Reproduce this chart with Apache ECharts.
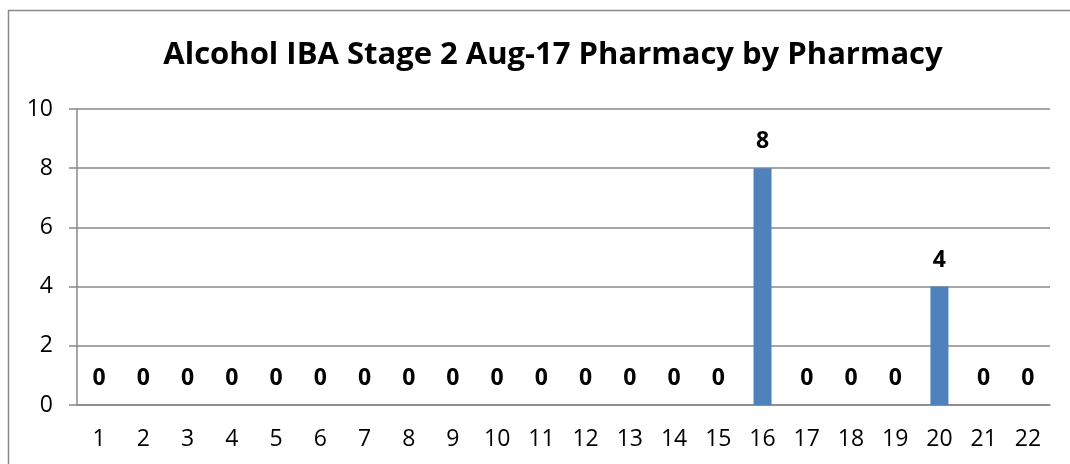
<!DOCTYPE html>
<html>
<head>
<meta charset="utf-8">
<script src="https://cdn.jsdelivr.net/npm/echarts@6/dist/echarts.min.js"></script>
<style>
  html, body { margin: 0; padding: 0; background: #fff; }
  #chart { width: 1070px; height: 464px; }
</style>
</head>
<body>
<div id="chart"></div>
<script>
  // pharmacy numbers along the x axis
  var categories = ['1', '2', '3', '4', '5', '6', '7', '8', '9', '10', '11',
    '12', '13', '14', '15', '16', '17', '18', '19', '20', '21', '22']
  var values = [0, 0, 0, 0, 0, 0, 0, 0, 0, 0, 0, 0, 0, 0, 0, 8, 0, 0, 0, 4, 0, 0]
  var yTicks = [0, 2, 4, 6, 8, 10]

  var fontName = '"Open Sans", sans-serif'
  var gray = '#888888'

  var chart = echarts.init(document.getElementById('chart'))
  var option = {
    animation: false,
    title: {
      text: 'Alcohol IBA Stage 2 Aug-17 Pharmacy by Pharmacy',
      left: 548,
      top: 35,
      textAlign: 'center',
      textStyle: {
        color: '#000',
        fontSize: 31,
        fontWeight: 'bold',
        fontFamily: fontName
      }
    },
    graphic: [{
      type: 'rect',
      shape: { x: 8.5, y: 10.5, width: 1100, height: 500 },
      style: { fill: 'none', stroke: gray, lineWidth: 1.5 },
      silent: true
    }],
    grid: { left: 77, right: 20, top: 109, bottom: 59 },
    xAxis: {
      type: 'category',
      data: categories,
      axisLine: { lineStyle: { color: gray, width: 1.5 } },
      axisTick: { length: 6, lineStyle: { color: gray, width: 1.5 } },
      axisLabel: { color: '#000', fontSize: 23, fontFamily: fontName, margin: 23 }
    },
    yAxis: {
      type: 'value',
      min: yTicks[0],
      max: yTicks[yTicks.length - 1],
      interval: 2,
      axisLine: { show: true, lineStyle: { color: gray, width: 1.5 } },
      axisTick: { show: true, length: 8, lineStyle: { color: gray, width: 1.5 } },
      splitLine: { lineStyle: { color: gray, width: 1.5 } },
      axisLabel: { color: '#000', fontSize: 23, fontFamily: fontName, margin: 24 }
    },
    series: [{
      type: 'bar',
      data: values,
      barWidth: 18,
      itemStyle: { color: '#4F81BD' },
      label: {
        show: true,
        position: 'top',
        distance: 15,
        color: '#000',
        fontSize: 23,
        fontWeight: 'bold',
        fontFamily: fontName
      }
    }]
  }
  chart.setOption(option)
</script>
</body>
</html>
